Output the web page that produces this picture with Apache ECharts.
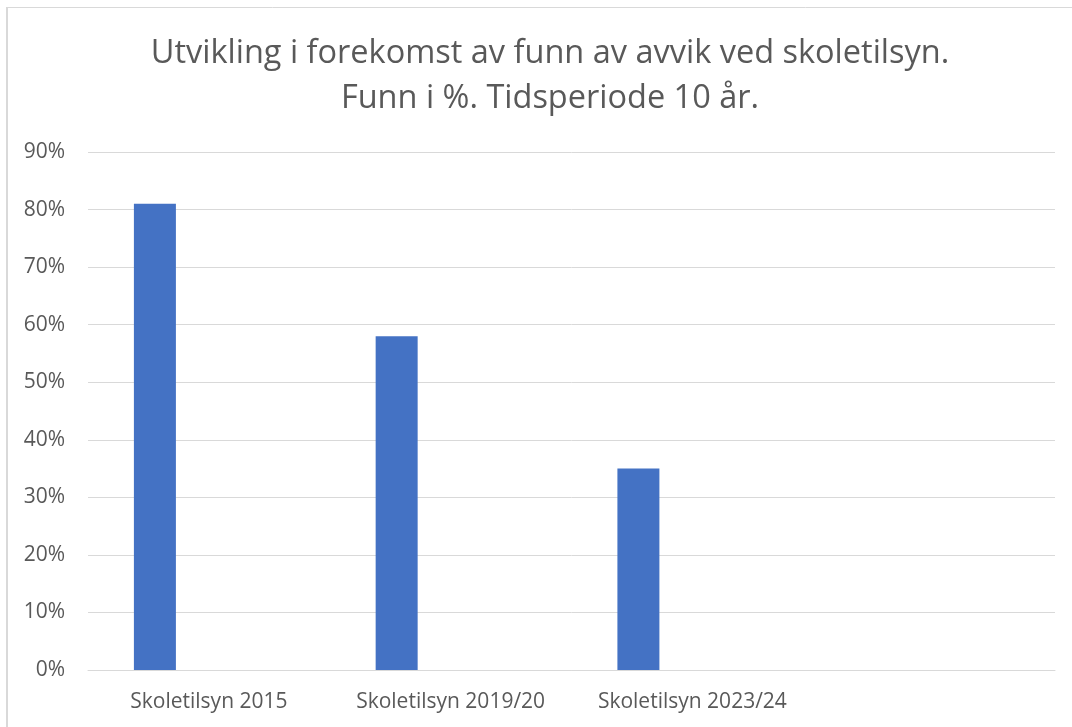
<!DOCTYPE html>
<html>
<head>
<meta charset="utf-8">
<script src="https://cdn.jsdelivr.net/npm/echarts@6/dist/echarts.min.js"></script>
<style>
html,body{margin:0;padding:0;background:#fff;}
#c{width:1072px;height:727px;}
</style>
</head>
<body>
<div id="c"></div>
<script>
var categories = ['Skoletilsyn 2015', 'Skoletilsyn 2019/20', 'Skoletilsyn 2023/24', ''];
var funnValues = [81, 58, 35, null];
var emptyValues = [null, null, null, null];
var yTicks = [0, 10, 20, 30, 40, 50, 60, 70, 80, 90];
var titleText = 'Utvikling i forekomst av funn av avvik ved skoletilsyn.\nFunn i %. Tidsperiode 10 år.';

var chart = echarts.init(document.getElementById('c'), null, {renderer: 'canvas'});
var font = 'Open Sans';
chart.setOption({
  animation: false,
  backgroundColor: '#fff',
  title: {
    text: titleText,
    left: 545,
    textAlign: 'center',
    top: 26,
    textStyle: {fontFamily: font, fontSize: 32.5, fontWeight: 'normal', color: '#595959', lineHeight: 45}
  },
  graphic: [
    {type: 'line', shape: {x1: 6, y1: 7.5, x2: 1072, y2: 7.5}, style: {stroke: '#d9d9d9', lineWidth: 1}},
    {type: 'line', shape: {x1: 7, y1: 7, x2: 7, y2: 727}, style: {stroke: '#d9d9d9', lineWidth: 2}}
  ],
  grid: {left: 88, right: 17, top: 152, bottom: 57},
  xAxis: {
    type: 'category',
    data: categories,
    axisLine: {lineStyle: {color: '#d9d9d9', width: 1}},
    axisTick: {show: false},
    axisLabel: {fontFamily: font, fontSize: 21, color: '#595959', margin: 22, interval: 0}
  },
  yAxis: {
    type: 'value',
    min: yTicks[0],
    max: yTicks[yTicks.length - 1],
    interval: 10,
    axisLine: {show: false},
    axisTick: {show: false},
    splitLine: {lineStyle: {color: '#d9d9d9', width: 1}},
    axisLabel: {fontFamily: font, fontSize: 21, color: '#595959', margin: 23, formatter: '{value}%'}
  },
  series: [
    {type: 'bar', data: funnValues, barWidth: 42, barGap: '157%', itemStyle: {color: '#4472c4'}},
    {type: 'bar', data: emptyValues, barWidth: 42, itemStyle: {color: '#ed7d31'}}
  ]
});
</script>
</body>
</html>
